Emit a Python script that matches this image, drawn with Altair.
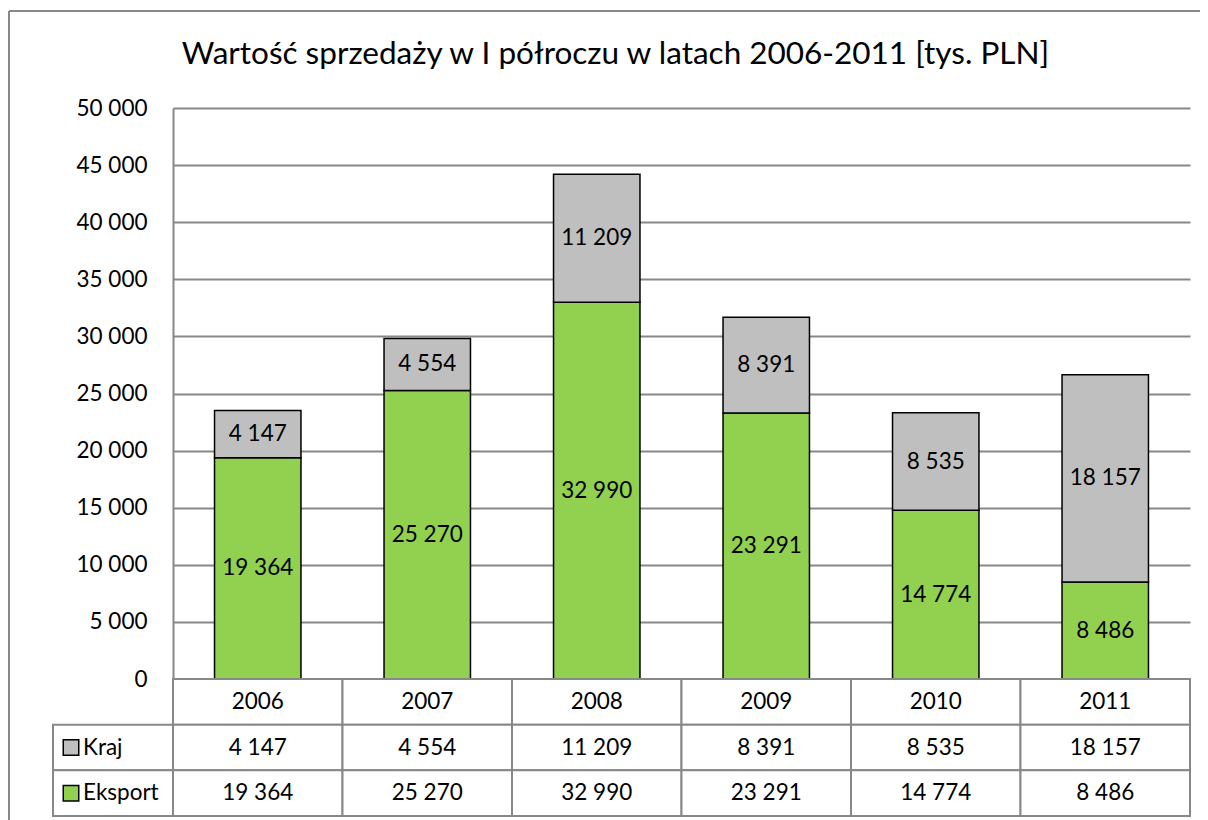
import altair as alt
import pandas as pd

years = ["2006", "2007", "2008", "2009", "2010", "2011"]
kraj = [4147, 4554, 11209, 8391, 8535, 18157]
eksport = [19364, 25270, 32990, 23291, 14774, 8486]
series = ["Kraj", "Eksport"]
colors = ["#BFBFBF", "#92D050"]
y_ticks = list(range(0, 50001, 5000))
table_rows = ["hdr", "Kraj", "Eksport"]
title_text = "Wartość sprzedaży w I półroczu w latach 2006-2011 [tys. PLN]"

FONT = "Lato"
FS = 22.5
W = 1017
H_PLOT = 571
H = 708
GRID = "#888888"


def fmt(v):
    return f"{v:,}".replace(",", " ")


rows = []
for i, yr in enumerate(years):
    rows.append(dict(year=yr, series="Eksport", ord=0, value=eksport[i], label=fmt(eksport[i])))
    rows.append(dict(year=yr, series="Kraj", ord=1, value=kraj[i], label=fmt(kraj[i])))
bars_df = pd.DataFrame(rows)

trows = []
for i, yr in enumerate(years):
    trows.append(dict(year=yr, row="hdr", text=yr))
    trows.append(dict(year=yr, row="Kraj", text=fmt(kraj[i])))
    trows.append(dict(year=yr, row="Eksport", text=fmt(eksport[i])))
table_df = pd.DataFrame(trows)
legend_df = pd.DataFrame({"row": series, "series": series})

x_scale = alt.Scale(domain=years, paddingInner=0, paddingOuter=0)
y_scale = alt.Scale(domain=[0, 50000], range=[H_PLOT, 0], nice=False)
t_scale = alt.Scale(domain=table_rows, range=[H_PLOT, H], paddingInner=0, paddingOuter=0)
color_scale = alt.Scale(domain=series, range=colors)

X = alt.X("year:N", scale=x_scale, axis=None)

frame_df = pd.DataFrame({"a": [0]})
border_top = alt.Chart(frame_df).mark_rule(stroke=GRID, strokeWidth=2).encode(
    x=alt.value(-164), x2=alt.value(W + 60), y=alt.value(-97)
)
border_left = alt.Chart(frame_df).mark_rule(stroke=GRID, strokeWidth=2).encode(
    x=alt.value(-164), y=alt.value(-97), y2=alt.value(H + 40)
)

bars = alt.Chart(bars_df).mark_bar(
    stroke="black", strokeWidth=1.5, width=alt.RelativeBandSize(0.51)
).encode(
    x=X,
    y=alt.Y(
        "value:Q",
        scale=y_scale,
        stack="zero",
        axis=alt.Axis(
            values=y_ticks,
            labelExpr="replace(format(datum.value, ','), regexp(',', 'g'), ' ')",
            grid=True,
            gridColor=GRID,
            gridWidth=2,
            domainColor=GRID,
            domainWidth=2,
            ticks=False,
            labelPadding=26,
            labelFontSize=FS,
            labelFont=FONT,
            labelColor="black",
            title=None,
        ),
    ),
    color=alt.Color("series:N", scale=color_scale, legend=None),
    order=alt.Order("ord:Q"),
)

labels = alt.Chart(bars_df).transform_stack(
    stack="value", groupby=["year"], as_=["v0", "v1"], sort=[alt.SortField("ord", order="ascending")]
).transform_calculate(
    mid="(datum.v0 + datum.v1) / 2"
).mark_text(fontSize=FS, font=FONT, color="black").encode(
    x=X,
    y=alt.Y("mid:Q", scale=y_scale, axis=None),
    text="label:N",
)

cells = alt.Chart(table_df).mark_rect(fill="white", stroke=GRID, strokeWidth=2).encode(
    x=X, y=alt.Y("row:N", scale=t_scale, axis=None)
)

cell_text = alt.Chart(table_df).mark_text(fontSize=FS, font=FONT, color="black").encode(
    x=X, y=alt.Y("row:N", scale=t_scale, axis=None), text="text:N"
)

legend_cells = alt.Chart(legend_df).mark_rect(fill="white", stroke=GRID, strokeWidth=2).encode(
    x=alt.value(-120), x2=alt.value(0), y=alt.Y("row:N", scale=t_scale, axis=None)
)

legend_squares = alt.Chart(legend_df).mark_square(
    filled=True, stroke="black", strokeWidth=1.5, size=240, opacity=1
).encode(
    x=alt.value(-102),
    y=alt.Y("row:N", scale=t_scale, axis=None),
    color=alt.Color("series:N", scale=color_scale, legend=None),
)

legend_text = alt.Chart(legend_df).mark_text(
    align="left", fontSize=FS, font=FONT, color="black"
).encode(
    x=alt.value(-90), y=alt.Y("row:N", scale=t_scale, axis=None), text="series:N"
)

chart = alt.layer(
    border_top, border_left, bars, labels, cells, cell_text, legend_cells, legend_squares, legend_text
).resolve_scale(
    y="independent"
).properties(
    width=W,
    height=H,
    autosize=alt.AutoSizeParams(type="none"),
    padding={"left": 165, "top": 100, "right": 10, "bottom": 4},
    title=alt.TitleParams(
        title_text,
        font=FONT,
        fontSize=31.5,
        fontWeight="normal",
        color="black",
        anchor="middle",
        dx=-66,
        offset=-60,
    ),
).configure_view(stroke=None)

chart.save("out.html", embed_options={"renderer": "svg", "actions": False})
